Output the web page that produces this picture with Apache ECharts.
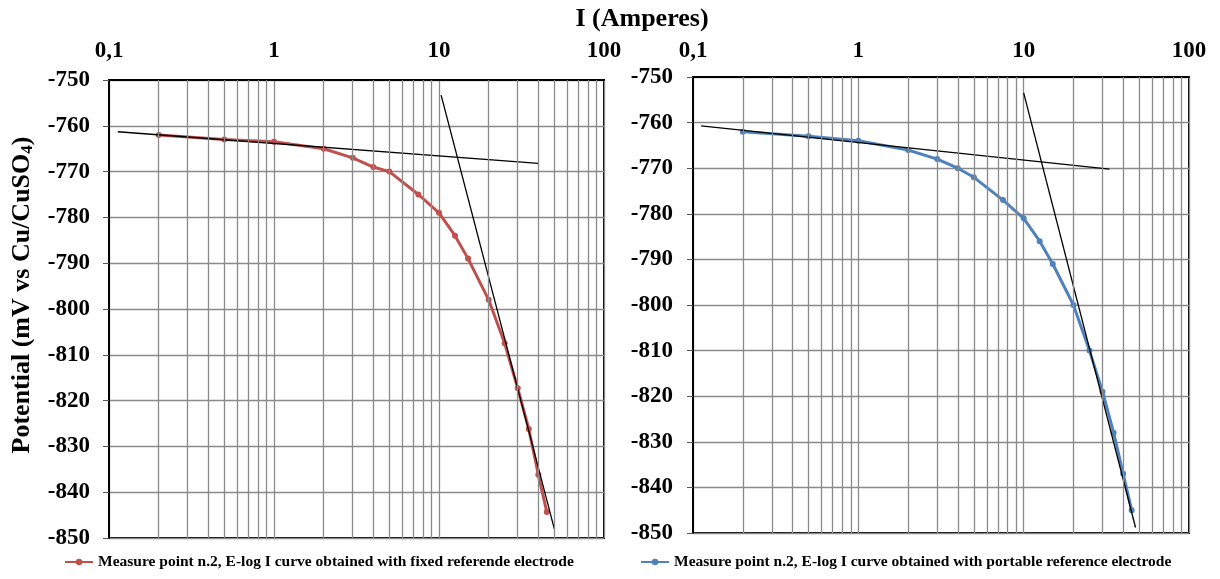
<!DOCTYPE html>
<html><head><meta charset="utf-8">
<script src="https://cdn.jsdelivr.net/npm/echarts@6/dist/echarts.min.js"></script>
<style>html,body{margin:0;padding:0;background:#fff}#c{width:1220px;height:579px}</style>
</head><body><div id="c"></div>
<script>
// ---- data ----
const xTickLabels = ['0,1', '1', '10', '100'];
const yMin = -850, yMax = -750, yStep = 10;
const currentFixed = [0.2, 0.5, 1, 2, 3, 4, 5, 7.5, 10, 12.5, 15, 20, 25, 30, 35, 40, 45];
const potentialFixed = [-762, -763, -763.5, -765, -767, -769, -770, -775, -779, -784, -789, -798, -807.5, -817.3, -826.2, -836.2, -844.3];
const currentPortable = [0.2, 0.5, 1, 2, 3, 4, 5, 7.5, 10, 12.5, 15, 20, 25, 30, 35, 40, 45];
const potentialPortable = [-762, -763, -764, -766, -768, -770, -772, -777, -781, -786, -791, -800, -810, -819, -828, -837, -845];
const tangentFixedFlat = [[0.113, -761.3], [40, -768.2]];
const tangentFixedSteep = [[10.3, -753.3], [50, -848]];
const tangentPortableFlat = [[0.112, -760.7], [33, -770.2]];
const tangentPortableSteep = [[10, -753.5], [47.5, -848.8]];
const minorGridValues = [0.2, 0.3, 0.4, 0.5, 0.6, 0.7, 0.8, 0.9, 2, 3, 4, 5, 6, 7, 8, 9, 20, 30, 40, 50, 60, 70, 80, 90];
const nameFixed = 'Measure point n.2, E-log I curve obtained with fixed referende electrode';
const namePortable = 'Measure point n.2, E-log I curve obtained with portable reference electrode';
const xTitle = 'I (Amperes)';
const yTitle = 'Potential (mV vs Cu/CuSO';

// ---- styling ----
const FONT = '"Liberation Serif", "Times New Roman", serif';
const GRIDC = '#8a8a8a';
const RED = '#c0504d', BLUE = '#4f81bd';

function zip(xs, ys) { return xs.map((x, i) => [x, ys[i]]); }
function xLabel(v) { return xTickLabels[Math.round(Math.log10(v)) + 1]; }

function xAxisCfg(gi, margin) {
  return {
    type: 'log', logBase: 10, min: 0.1, max: 100, gridIndex: gi, position: 'top',
    axisLine: { show: true, lineStyle: { color: '#000', width: 2 } },
    axisTick: { show: false },
    axisLabel: { formatter: xLabel, color: '#000', fontFamily: FONT, fontWeight: 'bold', fontSize: 23, margin: margin },
    splitLine: { show: true, lineStyle: { color: GRIDC, width: 1.3 } },
    minorTick: { show: false }, minorSplitLine: { show: false }
  };
}
function yAxisCfg(gi, margin) {
  return {
    type: 'value', min: yMin, max: yMax, interval: yStep, gridIndex: gi,
    axisLine: { show: true, lineStyle: { color: '#000', width: 2 } },
    axisTick: { show: true, inside: false, length: 6, lineStyle: { color: '#555', width: 1 } },
    axisLabel: { color: '#000', fontFamily: FONT, fontWeight: 'bold', fontSize: 23, margin: margin },
    splitLine: { show: true, lineStyle: { color: GRIDC, width: 1.3 } }
  };
}
function minorSeries(idx) {
  return {
    type: 'line', xAxisIndex: idx, yAxisIndex: idx, data: [], silent: true, z: 1,
    markLine: {
      silent: true, symbol: ['none', 'none'], label: { show: false }, animation: false,
      lineStyle: { color: GRIDC, width: 1.3, type: 'solid' },
      emphasis: { disabled: true },
      data: minorGridValues.map(v => ({ xAxis: v }))
    }
  };
}
function dataSeries(idx, name, xs, ys, color) {
  return {
    name: name, type: 'line', xAxisIndex: idx, yAxisIndex: idx, data: zip(xs, ys), z: 3,
    symbol: 'circle', symbolSize: 6, showSymbol: true,
    lineStyle: { color: color, width: 3 }, itemStyle: { color: color }, animation: false
  };
}
function tangent(idx, pts) {
  return {
    type: 'line', xAxisIndex: idx, yAxisIndex: idx, data: pts, z: 4, silent: true,
    symbol: 'none', lineStyle: { color: '#000', width: 1.3 }, animation: false
  };
}

const chart = echarts.init(document.getElementById('c'), null, { renderer: 'canvas' });
chart.setOption({
  backgroundColor: '#fff',
  animation: false,
  grid: [
    { left: 109, top: 80, width: 495, height: 458, show: true, borderColor: '#000', borderWidth: 2, backgroundColor: 'transparent' },
    { left: 693, top: 77, width: 496, height: 456, show: true, borderColor: '#000', borderWidth: 2, backgroundColor: 'transparent' }
  ],
  xAxis: [xAxisCfg(0, 17), xAxisCfg(1, 14)],
  yAxis: [yAxisCfg(0, 19), yAxisCfg(1, 20)],
  legend: [
    { data: [nameFixed], left: 59, top: 549, itemWidth: 28, itemHeight: 8, itemGap: 4,
      textStyle: { fontFamily: FONT, fontWeight: 'bold', fontSize: 15.5, color: '#000' }, selectedMode: false },
    { data: [namePortable], left: 635, top: 549, itemWidth: 28, itemHeight: 8, itemGap: 4,
      textStyle: { fontFamily: FONT, fontWeight: 'bold', fontSize: 15.5, color: '#000' }, selectedMode: false }
  ],
  graphic: [
    { type: 'text', x: 642, y: 19, style: { text: xTitle, x: 0, y: 0, textAlign: 'center', textVerticalAlign: 'middle',
      font: 'bold 26px ' + FONT, fill: '#000' } },
    { type: 'text', x: 22, y: 295, rotation: Math.PI / 2,
      style: { text: '{a|' + yTitle + '}{b|4}{a|)}', textAlign: 'center', textVerticalAlign: 'middle',
        rich: { a: { font: 'bold 26px ' + FONT, fill: '#000' }, b: { font: 'bold 17px ' + FONT, fill: '#000', padding: [11, 0, 0, 0] } } } }
  ],
  series: [
    minorSeries(0), minorSeries(1),
    dataSeries(0, nameFixed, currentFixed, potentialFixed, RED),
    dataSeries(1, namePortable, currentPortable, potentialPortable, BLUE),
    tangent(0, tangentFixedFlat), tangent(0, tangentFixedSteep),
    tangent(1, tangentPortableFlat), tangent(1, tangentPortableSteep)
  ]
});
</script></body></html>
